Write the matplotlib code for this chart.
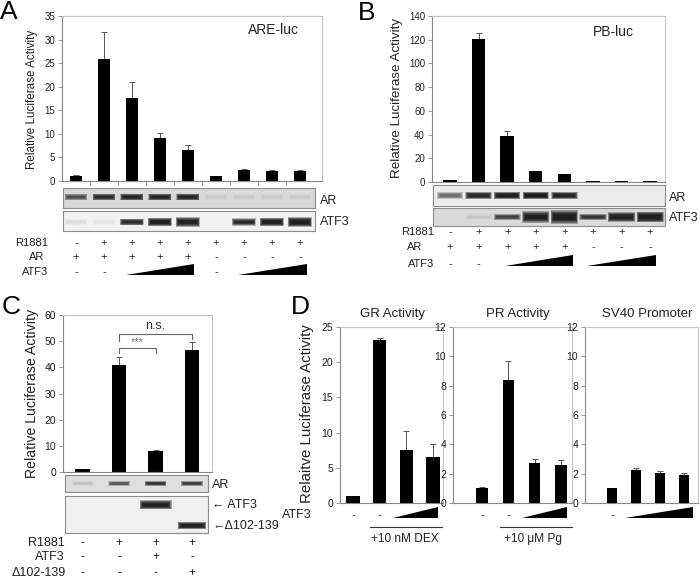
import numpy as np
import matplotlib
matplotlib.use('Agg')
import matplotlib.pyplot as plt
from matplotlib import transforms
from matplotlib.patches import Polygon
from matplotlib.lines import Line2D

plt.rcParams['font.family'] = ['Liberation Sans', 'DejaVu Sans']

# ---- data ----
# A: ARE-luc
a_vals = [1.0, 25.9, 17.6, 9.2, 6.6, 1.0, 2.4, 2.2, 2.1]
a_err = [0.2, 5.7, 3.4, 0.9, 1.0, 0.05, 0.15, 0.05, 0.3]
a_r1881 = ['-', '+', '+', '+', '+', '+', '+', '+', '+']
a_ar = ['+', '+', '+', '+', '+', '-', '-', '-', '-']
a_atf3 = ['-', '-', None, None, None, '-', None, None, None]
a_ramps = [(1.8, 4.2), (5.8, 8.25)]
a_ar_band = [0.5, 0.8, 0.9, 0.9, 0.9, 0.03, 0.03, 0.02, 0.02]
a_atf3_band = [0.04, 0.03, 0.85, 1.0, 1.0, 0.0, 0.85, 1.0, 1.0]

# B: PB-luc
b_vals = [1.4, 121.0, 38.5, 9.5, 7.0, 0.7, 0.7, 0.7]
b_err = [0.3, 5.0, 4.5, 0.0, 0.0, 0.0, 0.0, 0.0]
b_r1881 = ['-', '+', '+', '+', '+', '+', '+', '+']
b_ar = ['+', '+', '+', '+', '+', '-', '-', '-']
b_atf3 = ['-', '-', None, None, None, None, None, None]
b_ramps = [(1.92, 4.3), (4.8, 7.2)]
b_ar_band = [0.35, 0.85, 0.95, 1.0, 0.9, 0.0, 0.0, 0.0]
b_atf3_band = [0.0, 0.04, 0.6, 0.95, 1.0, 0.7, 0.95, 1.0]
b_atf3_thick = [0.3, 0.3, 0.35, 0.65, 0.75, 0.35, 0.55, 0.6]

# C: deletion mutant
c_vals = [1.1, 40.9, 8.1, 46.6]
c_err = [0.0, 3.2, 0.3, 3.0]
c_r1881 = ['-', '+', '+', '+']
c_atf3 = ['-', '-', '+', '-']
c_delta = ['-', '-', '-', '+']
c_ar_band = [0.06, 0.45, 0.7, 0.65]
c_atf3_band = [0.0, 0.0, 1.0, 0.0]
c_delta_band = [0.0, 0.0, 0.0, 1.0]

# D: GR / PR / SV40
gr_vals = [1.0, 23.1, 7.5, 6.6]
gr_err = [0.05, 0.4, 2.7, 1.8]
pr_vals = [1.0, 8.4, 2.75, 2.6]
pr_err = [0.08, 1.3, 0.25, 0.35]
sv_vals = [1.0, 2.27, 2.05, 1.9]
sv_err = [0.05, 0.15, 0.1, 0.13]
d_atf3 = ['-', '-', None, None]
sv_atf3 = ['-', None, None, None]

W, H = 700, 579
fig = plt.figure(figsize=(W / 100, H / 100), dpi=100)
TXT = '#222222'


def box(l, t, r, b):
    return [l / W, 1 - b / H, (r - l) / W, (b - t) / H]


def fy(y):
    return 1 - y / H


def bar_axes(px, vals, err, ylim, step, xlim, width, fs):
    ax = fig.add_axes(box(*px))
    x = np.arange(len(vals))
    ax.bar(x, vals, width=width, color='black', zorder=2)
    ax.errorbar(x, vals, yerr=[np.zeros(len(vals)), err], fmt='none',
                ecolor='#555555', elinewidth=0.7, capsize=2, capthick=0.7, zorder=1)
    ax.set_xlim(*xlim)
    ax.set_ylim(*ylim)
    ax.set_yticks(np.arange(0, ylim[1] + 0.01, step))
    ax.set_xticks([])
    for s in ax.spines.values():
        s.set_color('#c4c4c4')
        s.set_linewidth(0.8)
    ax.spines['left'].set_color('#888888')
    ax.spines['bottom'].set_color('#888888')
    ax.tick_params(axis='y', length=3, width=0.6, color='#888888',
                   labelsize=fs, labelcolor=TXT, pad=2)
    return ax


def blend(ax):
    return transforms.blended_transform_factory(ax.transData, fig.transFigure)


def blot_axes(main, px, bg):
    l, t, r, b = px
    pos = main.get_position()
    ml, mr = pos.x0 * W, pos.x1 * W
    x0, x1 = main.get_xlim()
    ppu = (mr - ml) / (x1 - x0)
    ax = fig.add_axes(box(l, t, r, b))
    ax.set_xlim(x0 + (l - ml) / ppu, x0 + (r - ml) / ppu)
    ax.set_ylim(0, 1)
    ax.set_facecolor(bg)
    ax.set_xticks([])
    ax.set_yticks([])
    for s in ax.spines.values():
        s.set_color('#8c8c8c')
        s.set_linewidth(0.8)
    return ax


def bands(ax, inten, yc, thick, width):
    # soft-edged bands: stacked translucent layers, narrower toward the core
    lanes = np.arange(len(inten))
    inten = np.asarray(inten, dtype=float)
    thick = np.broadcast_to(np.asarray(thick, dtype=float), inten.shape)
    for s in np.linspace(1.0, 0.3, 7):
        cols = [(0.06, 0.06, 0.06, min(1.0, i * 0.3)) for i in inten]
        h = thick * s
        ax.bar(lanes, h, bottom=yc - h / 2, width=width * (0.7 + 0.3 * s),
               color=cols, linewidth=0)


def sign_row(main, signs, y, fs):
    tr = blend(main)
    for i, s in enumerate(signs):
        if s:
            fig.text(i, fy(y), s, transform=tr, ha='center', va='center',
                     fontsize=fs, color=TXT)


def row_label(x, y, s, fs):
    fig.text(x / W, fy(y), s, ha='right', va='center', fontsize=fs, color=TXT)


def ramp(main, x0, x1, yb, yt):
    fig.add_artist(Polygon([(x0, fy(yb)), (x1, fy(yb)), (x1, fy(yt))], closed=True,
                           transform=blend(main), facecolor='black', lw=0))


# ---------------- A ----------------
axA = bar_axes((62, 16, 322, 181), a_vals, a_err, (0, 35), 5, (-0.5, 8.79), 0.45, 7)
axA.set_xticks(np.arange(len(a_vals) - 1) + 0.5, minor=True)
axA.tick_params(axis='x', which='minor', length=3, width=0.6, color='#888888')
fig.text(248 / W, fy(30), 'ARE-luc', fontsize=10, va='center', color=TXT)
fig.text(32 / W, fy(99), 'Relative Luciferase Activity', rotation=90,
         ha='center', va='center', fontsize=8.4, color=TXT)
bA1 = blot_axes(axA, (63, 188, 315, 208), '#d8d8d8')
bands(bA1, a_ar_band, 0.55, 0.34, 0.82)
bA2 = blot_axes(axA, (63, 211, 315, 231), '#f2f2f2')
bands(bA2, a_atf3_band, 0.45, [0.34, 0.34, 0.34, 0.4, 0.46, 0.34, 0.36, 0.4, 0.5], 0.85)
fig.text(320 / W, fy(201), 'AR', fontsize=9, va='center', color=TXT)
fig.text(320 / W, fy(222), 'ATF3', fontsize=9, va='center', color=TXT)
sign_row(axA, a_r1881, 243, 8)
sign_row(axA, a_ar, 257, 8)
sign_row(axA, a_atf3, 272, 8)
row_label(48, 243, 'R1881', 8)
row_label(44, 257, 'AR', 8)
row_label(48, 272, 'ATF3', 8)
for r0, r1 in a_ramps:
    ramp(axA, r0, r1, 275, 264)
fig.text(0, fy(0), 'A', fontsize=19, va='top', ha='left', color='black')

# ---------------- B ----------------
axB = bar_axes((432, 16, 665, 182), b_vals, b_err, (0, 140), 20, (-0.63, 7.52), 0.47, 7)
fig.text(593 / W, fy(32), 'PB-luc', fontsize=10, va='center', color=TXT)
fig.text(397 / W, fy(98), 'Relative Luciferase Activity', rotation=90,
         ha='center', va='center', fontsize=9.6, color=TXT)
bB1 = blot_axes(axB, (433, 185, 665, 206), '#ececec')
bands(bB1, b_ar_band, 0.5, 0.36, 0.92)
bB2 = blot_axes(axB, (433, 208, 665, 226), '#dadada')
bands(bB2, b_atf3_band, 0.5, b_atf3_thick, 0.95)
fig.text(669 / W, fy(198), 'AR', fontsize=9, va='center', color=TXT)
fig.text(669 / W, fy(218), 'ATF3', fontsize=9, va='center', color=TXT)
sign_row(axB, b_r1881, 232, 8)
sign_row(axB, b_ar, 247, 8)
sign_row(axB, b_atf3, 264, 8)
row_label(434, 232, 'R1881', 8)
row_label(422, 247, 'AR', 8)
row_label(434, 264, 'ATF3', 8)
for r0, r1 in b_ramps:
    ramp(axB, r0, r1, 266, 255)
fig.text(358 / W, fy(1), 'B', fontsize=19, va='top', ha='left', color='black')

# ---------------- C ----------------
axC = bar_axes((63, 315, 212, 472), c_vals, c_err, (0, 60), 10, (-0.54, 3.55), 0.4, 7.5)
axC.plot([1, 1, 3, 3], [50.2, 52.6, 52.6, 50.7], color='#666666', lw=0.8)
axC.plot([1, 1, 2, 2], [45.4, 47.5, 47.5, 45.4], color='#666666', lw=0.8)
axC.text(2, 53.6, 'n.s.', ha='center', va='bottom', fontsize=9, color='#333333')
axC.text(1.5, 47.9, '***', ha='center', va='bottom', fontsize=8, color='#777777')
fig.text(32 / W, fy(393), 'Relative Luciferase Activity', rotation=90,
         ha='center', va='center', fontsize=10.2, color=TXT)
bC1 = blot_axes(axC, (65, 475, 208, 492), '#dedede')
bands(bC1, c_ar_band, 0.5, 0.3, 0.6)
bC2 = blot_axes(axC, (65, 496, 208, 533), '#f0f0f0')
bands(bC2, c_atf3_band, 0.76, 0.24, 0.88)
bands(bC2, c_delta_band, 0.2, 0.2, 0.78)
fig.text(212 / W, fy(485), 'AR', fontsize=9, va='center', color=TXT)
fig.text(212 / W, fy(505), '\u2190 ATF3', fontsize=9, va='center', color=TXT)
fig.text(212 / W, fy(526), '\u2190\u0394102-139', fontsize=9, va='center', color=TXT)
sign_row(axC, c_r1881, 543, 8.5)
sign_row(axC, c_atf3, 557, 8.5)
sign_row(axC, c_delta, 573, 8.5)
row_label(65, 543, 'R1881', 9)
row_label(65, 557, 'ATF3', 9)
row_label(66, 573, '\u0394102-139', 9)
fig.text(2 / W, fy(295), 'C', fontsize=19, va='top', ha='left', color='black')

# ---------------- D ----------------
axG = bar_axes((340, 327, 443, 503), gr_vals, gr_err, (0, 25), 5, (-0.49, 3.37), 0.5, 7.5)
axP = bar_axes((453, 327, 572, 503), pr_vals, pr_err, (0, 12), 2, (-1.1, 3.42), 0.43, 7.5)
axS = bar_axes((585, 327, 698, 503), sv_vals, sv_err, (0, 12), 2, (-1.125, 3.58), 0.4, 7.5)
fig.text(393 / W, fy(314), 'GR Activity', ha='center', va='center', fontsize=9.5, color=TXT)
fig.text(518 / W, fy(314), 'PR Activity', ha='center', va='center', fontsize=9.5, color=TXT)
fig.text(647 / W, fy(314), 'SV40 Promoter', ha='center', va='center', fontsize=9.5, color=TXT)
fig.text(307 / W, fy(414), 'Relaitve Luciferase Activity', rotation=90,
         ha='center', va='center', fontsize=10.8, color=TXT)
sign_row(axG, d_atf3, 515, 8)
sign_row(axP, d_atf3, 515, 8)
sign_row(axS, sv_atf3, 515, 8)
row_label(312, 515, 'ATF3', 9)
ramp(axG, 1.5, 3.2, 518, 507)
ramp(axP, 1.52, 3.23, 518, 507)
ramp(axS, 0.54, 3.38, 518, 507)
fig.add_artist(Line2D([0.64, 3.33], [fy(527), fy(527)], transform=blend(axG), color='#333333', lw=0.8))
fig.add_artist(Line2D([0.68, 3.42], [fy(527), fy(527)], transform=blend(axP), color='#333333', lw=0.8))
fig.text(405 / W, fy(539), '+10 nM DEX', ha='center', va='center', fontsize=8.6, color=TXT)
fig.text(533 / W, fy(539), '+10 \u03bcM Pg', ha='center', va='center', fontsize=8.6, color=TXT)
fig.text(291 / W, fy(295), 'D', fontsize=19, va='top', ha='left', color='black')

fig.savefig('out.png', dpi=100)
